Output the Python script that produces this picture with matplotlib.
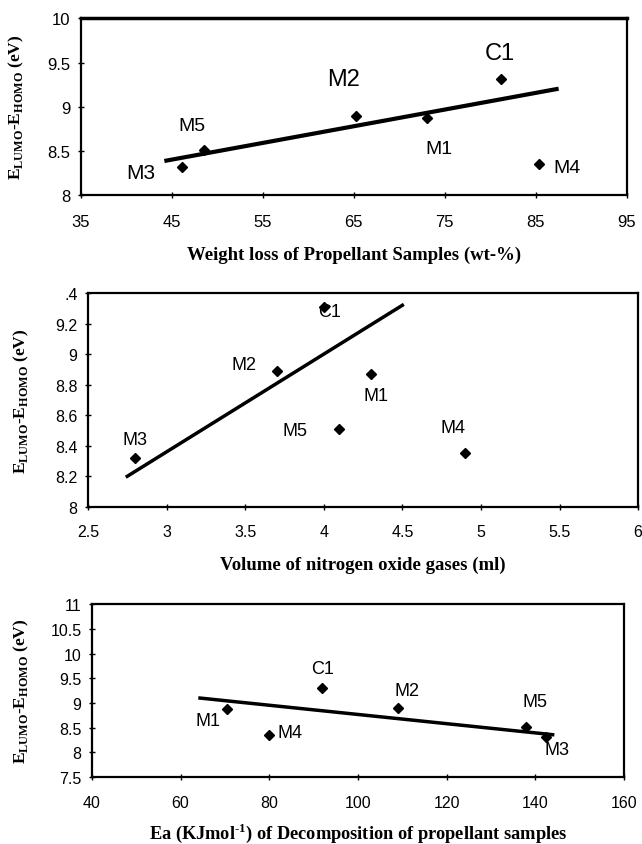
import matplotlib
matplotlib.use("Agg")
import matplotlib.pyplot as plt

plt.rcParams['font.family'] = ['Liberation Sans', 'DejaVu Sans']
plt.rcParams['mathtext.fontset'] = 'custom'
plt.rcParams['mathtext.rm'] = 'Liberation Serif:bold'
plt.rcParams['mathtext.bf'] = 'Liberation Serif:bold'

# energy gap of each sample (eV)
samples = ['M1', 'M2', 'M3', 'M4', 'M5', 'C1']
gap = [8.87, 8.89, 8.32, 8.35, 8.51, 9.31]

# x quantities per sample
weight_loss = [73.0, 65.3, 46.1, 85.4, 48.5, 81.2]
nox_volume = [4.3, 3.7, 2.8, 4.9, 4.1, 4.0]
ea = [70.4, 109.0, 142.3, 80.0, 138.0, 92.0]

# fitted trend lines (end points)
trend1_x = [44.4, 87.3]
trend1_y = [8.39, 9.20]
trend2_x = [2.75, 4.5]
trend2_y = [8.20, 9.32]
trend3_x = [64.4, 143.9]
trend3_y = [9.10, 8.36]

# label positions per sample
lab1_x = [74.4, 63.9, 41.6, 88.5, 47.2, 81.1]
lab1_y = [8.53, 9.31, 8.26, 8.31, 8.79, 9.61]
lab1_size = [14, 17, 15, 14, 14, 17]
lab2_x = [4.33, 3.49, 2.80, 4.82, 3.82, 4.04]
lab2_y = [8.73, 8.93, 8.44, 8.52, 8.50, 9.28]
lab3_x = [66.3, 111.0, 145.0, 84.7, 140.0, 92.1]
lab3_y = [8.64, 9.25, 8.07, 8.41, 9.03, 9.69]

ylab = r'E$_{\rm LUMO}$-E$_{\rm HOMO}$ (eV)'
serif = dict(family='Liberation Serif', weight='bold')

fig = plt.figure(figsize=(6.42, 8.45), dpi=100)


def style(ax, xlim, xticks, ylim, yticks, fs, pad):
    ax.set_xlim(xlim)
    ax.set_ylim(ylim)
    ax.set_xticks(xticks)
    ax.set_yticks(yticks)
    ax.tick_params(direction='inout', length=5, width=1, labelsize=fs)
    ax.tick_params(axis='x', pad=pad)
    ax.tick_params(axis='y', pad=5)
    for s in ax.spines.values():
        s.set_linewidth(1.6)


# panel 1
ax1 = fig.add_axes([0.126, 0.768, 0.850, 0.209])
ax1.plot(trend1_x, trend1_y, color='black', lw=3)
ax1.plot(weight_loss, gap, 'D', color='black', ms=5)
for i, s in enumerate(samples):
    ax1.text(lab1_x[i], lab1_y[i], s, ha='center', va='center', fontsize=lab1_size[i])
style(ax1, (35, 95), range(35, 96, 10), (8, 10), [8, 8.5, 9, 9.5, 10], 12, 11)
ax1.set_yticklabels(['8', '8.5', '9', '9.5', '10'])
ax1.spines['top'].set_linewidth(2.5)
ax1.set_xlabel('Weight loss of Propellant Samples (wt-%)', fontsize=13.5, labelpad=12, **serif)
ax1.set_ylabel(ylab, fontsize=12.5, **serif)
ax1.yaxis.set_label_coords(-0.1, 0.5)

# panel 2
ax2 = fig.add_axes([0.137, 0.399, 0.857, 0.253])
ax2.plot(trend2_x, trend2_y, color='black', lw=2.5)
ax2.plot(nox_volume, gap, 'D', color='black', ms=5)
for i, s in enumerate(samples):
    ax2.text(lab2_x[i], lab2_y[i], s, ha='center', va='center', fontsize=13)
style(ax2, (2.5, 6), [2.5, 3, 3.5, 4, 4.5, 5, 5.5, 6], (8, 9.4),
      [8, 8.2, 8.4, 8.6, 8.8, 9, 9.2, 9.4], 11.5, 10)
ax2.set_xticklabels(['2.5', '3', '3.5', '4', '4.5', '5', '5.5', '6'])
ax2.set_yticklabels(['8', '8.2', '8.4', '8.6', '8.8', '9', '9.2', '.4'])
ax2.set_xlabel('Volume of nitrogen oxide gases (ml)', fontsize=13.5, labelpad=12, **serif)
ax2.set_ylabel(ylab, fontsize=12.5, **serif)
ax2.yaxis.set_label_coords(-0.104, 0.5)

# panel 3
ax3 = fig.add_axes([0.143, 0.079, 0.829, 0.205])
ax3.plot(trend3_x, trend3_y, color='black', lw=2.5)
ax3.plot(ea, gap, 'D', color='black', ms=5)
for i, s in enumerate(samples):
    ax3.text(lab3_x[i], lab3_y[i], s, ha='center', va='center', fontsize=13)
style(ax3, (40, 160), range(40, 161, 20), (7.5, 11),
      [7.5, 8, 8.5, 9, 9.5, 10, 10.5, 11], 11.5, 10)
ax3.set_yticklabels(['7.5', '8', '8.5', '9', '9.5', '10', '10.5', '11'])
ax3.set_xlabel('Ea (KJmol$^{\\rm \u2010 1}$) of Decomposition of propellant samples',
               fontsize=13.2, labelpad=8, **serif)
ax3.set_ylabel(ylab, fontsize=12.5, **serif)
ax3.yaxis.set_label_coords(-0.115, 0.5)

fig.savefig('out.png', dpi=100)
